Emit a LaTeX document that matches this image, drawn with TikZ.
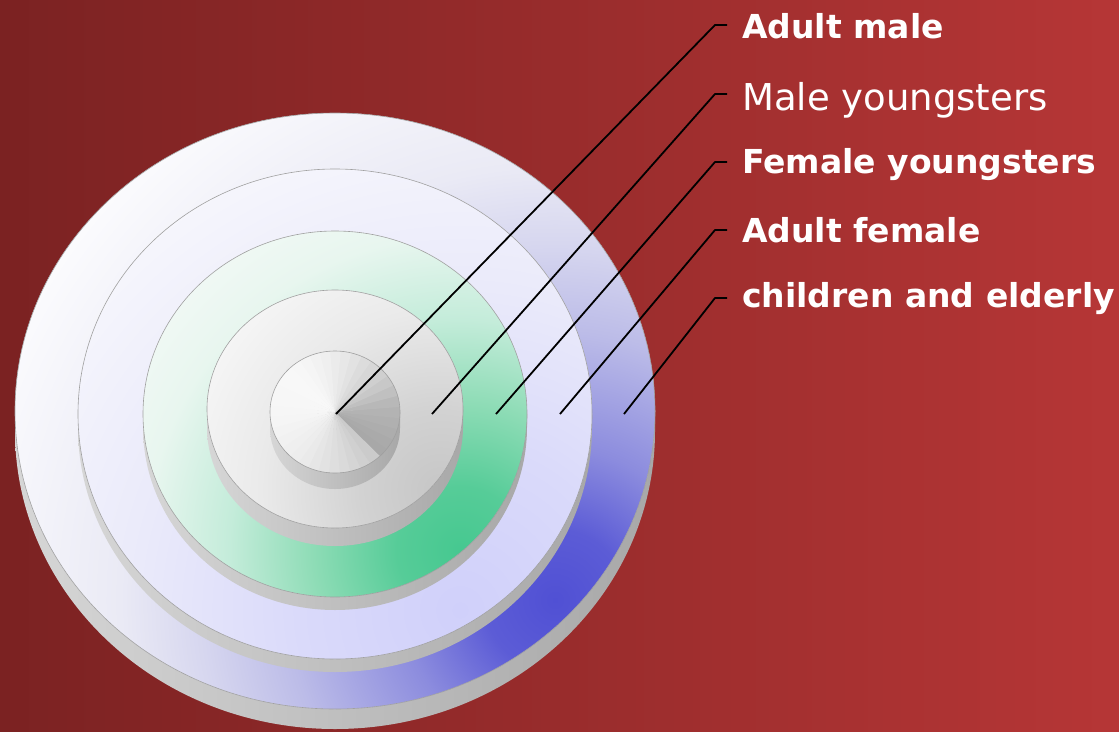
\documentclass[tikz,border=0pt]{standalone}
\usepackage{fontspec}
\setmainfont{DejaVu Sans}
\definecolor{bgL}{HTML}{7B2222}
\definecolor{bgR}{HTML}{B63636}
\definecolor{sideL}{HTML}{D6D6D6}
\definecolor{sideR}{HTML}{A8A8A8}
\definecolor{rimc}{HTML}{A0A0A0}
% blue ring
\definecolor{bA}{HTML}{5050D4}
\definecolor{bB}{HTML}{5C5CD6}
\definecolor{bC}{HTML}{8C8CDE}
\definecolor{bD}{HTML}{BCBCE8}
\definecolor{bE}{HTML}{D6D6EF}
\definecolor{bF}{HTML}{EAEAF5}
\definecolor{bG}{HTML}{FCFCFE}
% lavender ring
\definecolor{lA}{HTML}{D0D0FA}
\definecolor{lB}{HTML}{DADAFA}
\definecolor{lC}{HTML}{EAEAFA}
\definecolor{lD}{HTML}{FAFAFD}
% green ring
\definecolor{gA}{HTML}{46C890}
\definecolor{gB}{HTML}{56CC98}
\definecolor{gC}{HTML}{8EDCB6}
\definecolor{gD}{HTML}{C4ECDA}
\definecolor{gE}{HTML}{E8F6EF}
\definecolor{gF}{HTML}{F6FAF8}
% grey ring
\definecolor{wA}{HTML}{C6C6C6}
\definecolor{wB}{HTML}{D2D2D2}
\definecolor{wC}{HTML}{EAEAEA}
\definecolor{wD}{HTML}{F8F8F8}
\pgfdeclareradialshading{blueglow}{\pgfpointorigin}{color(0bp)=(bA); color(2.9bp)=(bB); color(6.25bp)=(bC); color(11bp)=(bD); color(14.5bp)=(bE); color(17.8bp)=(bF); color(25bp)=(bG); color(50bp)=(bG)}
\pgfdeclareradialshading{lavglow}{\pgfpointorigin}{color(0bp)=(lA); color(7.5bp)=(lB); color(15bp)=(lC); color(25bp)=(lD); color(50bp)=(lD)}
\pgfdeclareradialshading{greenglow}{\pgfpointorigin}{color(0bp)=(gA); color(3.75bp)=(gB); color(8.75bp)=(gC); color(13.75bp)=(gD); color(18.75bp)=(gE); color(25bp)=(gF); color(50bp)=(gF)}
\pgfdeclareradialshading{greyglow}{\pgfpointorigin}{color(0bp)=(wA); color(7.1bp)=(wB); color(16bp)=(wC); color(25bp)=(wD); color(50bp)=(wD)}
% cx, cy, rx, ry, thickness
\newcommand\mydiscside[5]{%
  \shade[left color=sideL,right color=sideR]
    (#1-#3,#2) -- (#1-#3,#2+#5)
    arc[start angle=180,end angle=0,x radius=#3,y radius=#4]
    -- (#1+#3,#2) -- cycle;}
% cx, cy, rx, ry, shading, glow centre, glow radius
\newcommand\mydiscface[7]{%
  \begin{scope}
    \clip (#1,#2) ellipse[x radius=#3,y radius=#4];
    \fill[lD] (#1,#2) ellipse[x radius=#3,y radius=#4];
    \shade[shading=#5] (#6) circle[radius=#7];
  \end{scope}
  \draw[rim] (#1,#2) ellipse[x radius=#3,y radius=#4];}
\begin{document}
\begin{tikzpicture}[x=1pt,y=-1pt,line join=round,
  rim/.style={draw=rimc,line width=0.6pt},
  leader/.style={draw=black,line width=1.8pt},
  lblb/.style={anchor=base west,inner sep=0pt,text=white,font=\fontsize{33}{40}\selectfont\bfseries},
  lblr/.style={anchor=base west,inner sep=0pt,text=white,font=\fontsize{37}{44}\selectfont}]
\useasboundingbox (0,0) rectangle (1119,731);
\shade[left color=bgL,right color=bgR] (0,0) rectangle (1119,731);

% disc 1: children and elderly
\mydiscside{335}{411}{320}{298}{20}
\mydiscface{335}{411}{320}{298}{blueglow}{555,600}{610}
% disc 2: adult female
\mydiscside{335}{414}{257}{245}{13}
\mydiscface{335}{414}{257}{245}{lavglow}{460,610}{540}
% disc 3: female youngsters
\mydiscside{335}{414}{192}{183}{13}
\mydiscface{335}{414}{192}{183}{greenglow}{460,550}{420}
% disc 4: male youngsters
\mydiscside{335}{409}{128}{119}{18}
\mydiscface{335}{409}{128}{119}{greyglow}{440,490}{280}
% disc 5: adult male (conic metal look)
\mydiscside{335}{412}{65}{61}{16}
\begin{scope}
  \clip (335,412) ellipse[x radius=65,y radius=61];
  \foreach \p/\v in {0/168,10/170,20/173,30/176,40/179,50/184,60/192,70/200,80/207,90/215,
    100/220,110/226,120/231,130/235,140/239,150/242,160/245,170/247,180/248,190/248,
    200/247,210/247,220/246,230/245,240/243,250/241,260/239,270/237,280/234,290/230,
    300/226,310/222,320/218,330/213,340/208,350/203}
    \fill[fill={rgb,255:red,\v;green,\v;blue,\v}] (335,412) -- +({45-\p+0.5}:90) -- +({35-\p-0.5}:90) -- cycle;
\end{scope}
\draw[rim] (335,412) ellipse[x radius=65,y radius=61];

% leader lines
\coordinate (e1) at (336,414); \coordinate (k1) at (715,25);  \coordinate (h1) at (727,25);
\coordinate (e2) at (432,414); \coordinate (k2) at (715,94);  \coordinate (h2) at (727,94);
\coordinate (e3) at (496,414); \coordinate (k3) at (715,162); \coordinate (h3) at (727,162);
\coordinate (e4) at (560,414); \coordinate (k4) at (715,230); \coordinate (h4) at (727,230);
\coordinate (e5) at (624,414); \coordinate (k5) at (715,298); \coordinate (h5) at (727,298);
\draw[leader] (e1) -- (k1) -- (h1);
\draw[leader] (e2) -- (k2) -- (h2);
\draw[leader] (e3) -- (k3) -- (h3);
\draw[leader] (e4) -- (k4) -- (h4);
\draw[leader] (e5) -- (k5) -- (h5);

% labels
\node[lblb] (t1) at (742,38)  {Adult male};
\node[lblr] (t2) at (742,110) {Male youngsters};
\node[lblb] (t3) at (742,173) {Female youngsters};
\node[lblb] (t4) at (742,242) {Adult female};
\node[lblb] (t5) at (742,307) {children and elderly};
\end{tikzpicture}
\end{document}
